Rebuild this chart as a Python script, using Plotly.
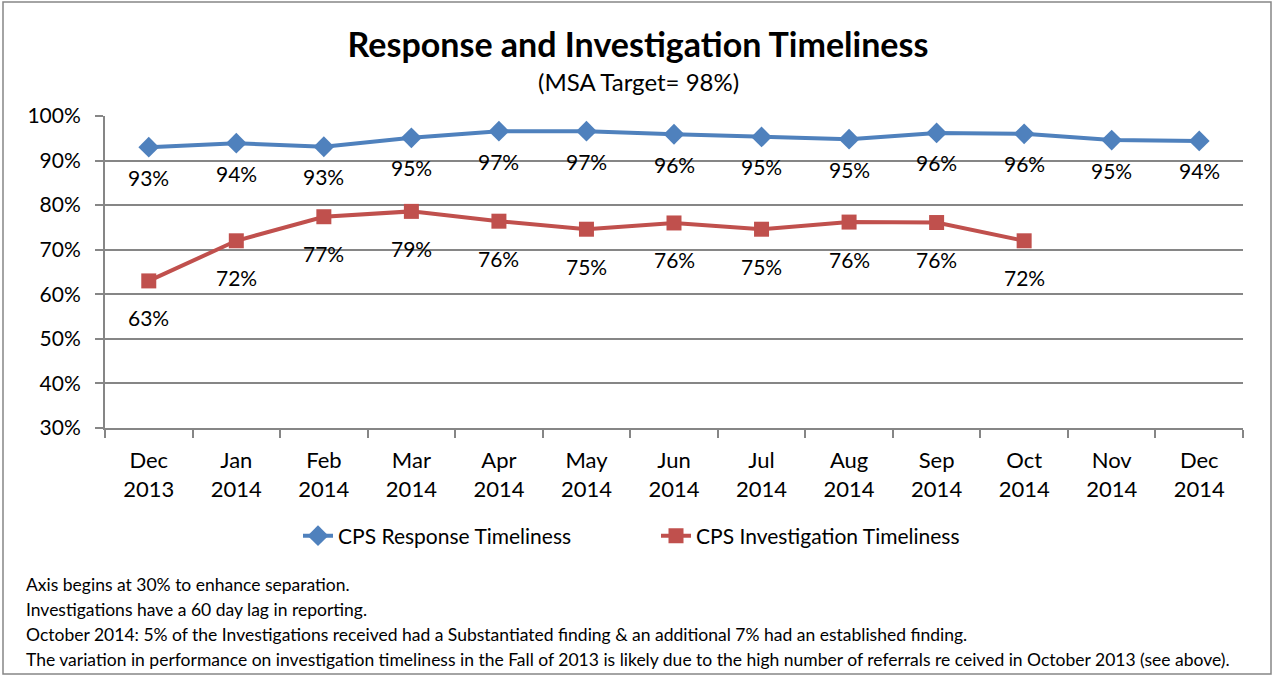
import plotly.graph_objects as go

# data
months = ["Dec<br>2013", "Jan<br>2014", "Feb<br>2014", "Mar<br>2014", "Apr<br>2014",
          "May<br>2014", "Jun<br>2014", "Jul<br>2014", "Aug<br>2014", "Sep<br>2014",
          "Oct<br>2014", "Nov<br>2014", "Dec<br>2014"]
response = [93.0, 93.9, 93.1, 95.1, 96.6, 96.6, 95.9, 95.3, 94.8, 96.2, 96.0, 94.6, 94.4]
investigation = [63.0, 72.0, 77.4, 78.6, 76.4, 74.6, 76.0, 74.6, 76.2, 76.1, 72.0]

notes = [
    "Axis begins at 30% to enhance separation.",
    "Investigations have a 60 day lag in reporting.",
    "October 2014: 5% of the Investigations received had a Substantiated finding & an additional 7% had an established finding.",
    "The variation in performance on investigation timeliness in the Fall of 2013 is likely due to the high number of referrals re ceived in October 2013 (see above).",
]

FONT = "Lato, 'Open Sans', sans-serif"
W, H = 1275, 677
ML, MR, MT, MB = 105, 32, 116, 249
pw, ph = W - ML - MR, H - MT - MB
BLUE, RED = "#4F81BD", "#C0504D"

fig = go.Figure()
fig.add_trace(go.Scatter(
    x=months, y=response, name="CPS Response Timeliness",
    mode="lines+markers",
    line=dict(color=BLUE, width=4),
    marker=dict(symbol="diamond", size=16, color=BLUE),
))
fig.add_trace(go.Scatter(
    x=months[:len(investigation)], y=investigation, name="CPS Investigation Timeliness",
    mode="lines+markers",
    line=dict(color=RED, width=4),
    marker=dict(symbol="square", size=15, color=RED),
))

# data labels, placed under each point
for series, shift in ((response, -30), (investigation, -37)):
    for m, v in zip(months, series):
        fig.add_annotation(
            x=m, y=v, text=f"{round(v)}%", showarrow=False,
            yshift=shift, yanchor="middle", xanchor="center",
            font=dict(size=21, family=FONT, color="#000000"),
        )

# footnotes
for i, note in enumerate(notes):
    fig.add_annotation(
        text=note, xref="paper", yref="paper",
        x=(24 - ML) / pw, y=(H - MB - (584 + 25 * i)) / ph,
        xanchor="left", yanchor="middle", showarrow=False,
        font=dict(size=17.5, family=FONT, color="#000000"),
    )

# subtitle
fig.add_annotation(
    text="(MSA Target= 98%)", xref="paper", yref="paper",
    x=(638 - ML) / pw, y=(H - MB - 82) / ph,
    xanchor="center", yanchor="middle", showarrow=False,
    font=dict(size=24, family=FONT, color="#000000"),
)

# outer frame
fig.add_shape(
    type="rect", xref="paper", yref="paper",
    x0=(3 - ML) / pw, x1=(1271 - ML) / pw,
    y0=(H - MB - 674) / ph, y1=(H - MB - 2) / ph,
    line=dict(color="#868686", width=1.5),
)

fig.update_layout(
    width=W, height=H,
    margin=dict(l=ML, r=MR, t=MT, b=MB),
    paper_bgcolor="white", plot_bgcolor="white",
    font=dict(family=FONT, size=21, color="#000000"),
    title=dict(text="<b>Response and Investigation Timeliness</b>",
               x=(638 / W), xanchor="center", y=1 - 45 / H, yanchor="middle",
               font=dict(size=34, family=FONT, color="#000000")),
    showlegend=True,
    legend=dict(orientation="h", x=(298 - ML) / pw, xanchor="left",
                y=(H - MB - 536) / ph, yanchor="middle",
                font=dict(size=21), entrywidth=313, entrywidthmode="pixels"),
    xaxis=dict(
        type="category", range=[-0.5, len(months) - 0.5],
        showgrid=False, showline=True, linecolor="#868686", linewidth=2,
        ticks="outside", tickson="boundaries", ticklen=8, tickcolor="#868686", tickwidth=2,
        tickfont=dict(size=22), ticklabelstandoff=12,
    ),
    yaxis=dict(
        range=[30, 100], dtick=10, ticksuffix="%",
        showgrid=True, gridcolor="#868686", gridwidth=2,
        showline=True, linecolor="#868686", linewidth=2,
        ticks="outside", ticklen=8, tickcolor="#868686", tickwidth=2,
        tickfont=dict(size=21), zeroline=False, ticklabelstandoff=10,
    ),
)

fig.write_html("out.html", config={"displayModeBar": False},
               post_script="document.body.style.margin='0';document.body.style.overflow='hidden';")
